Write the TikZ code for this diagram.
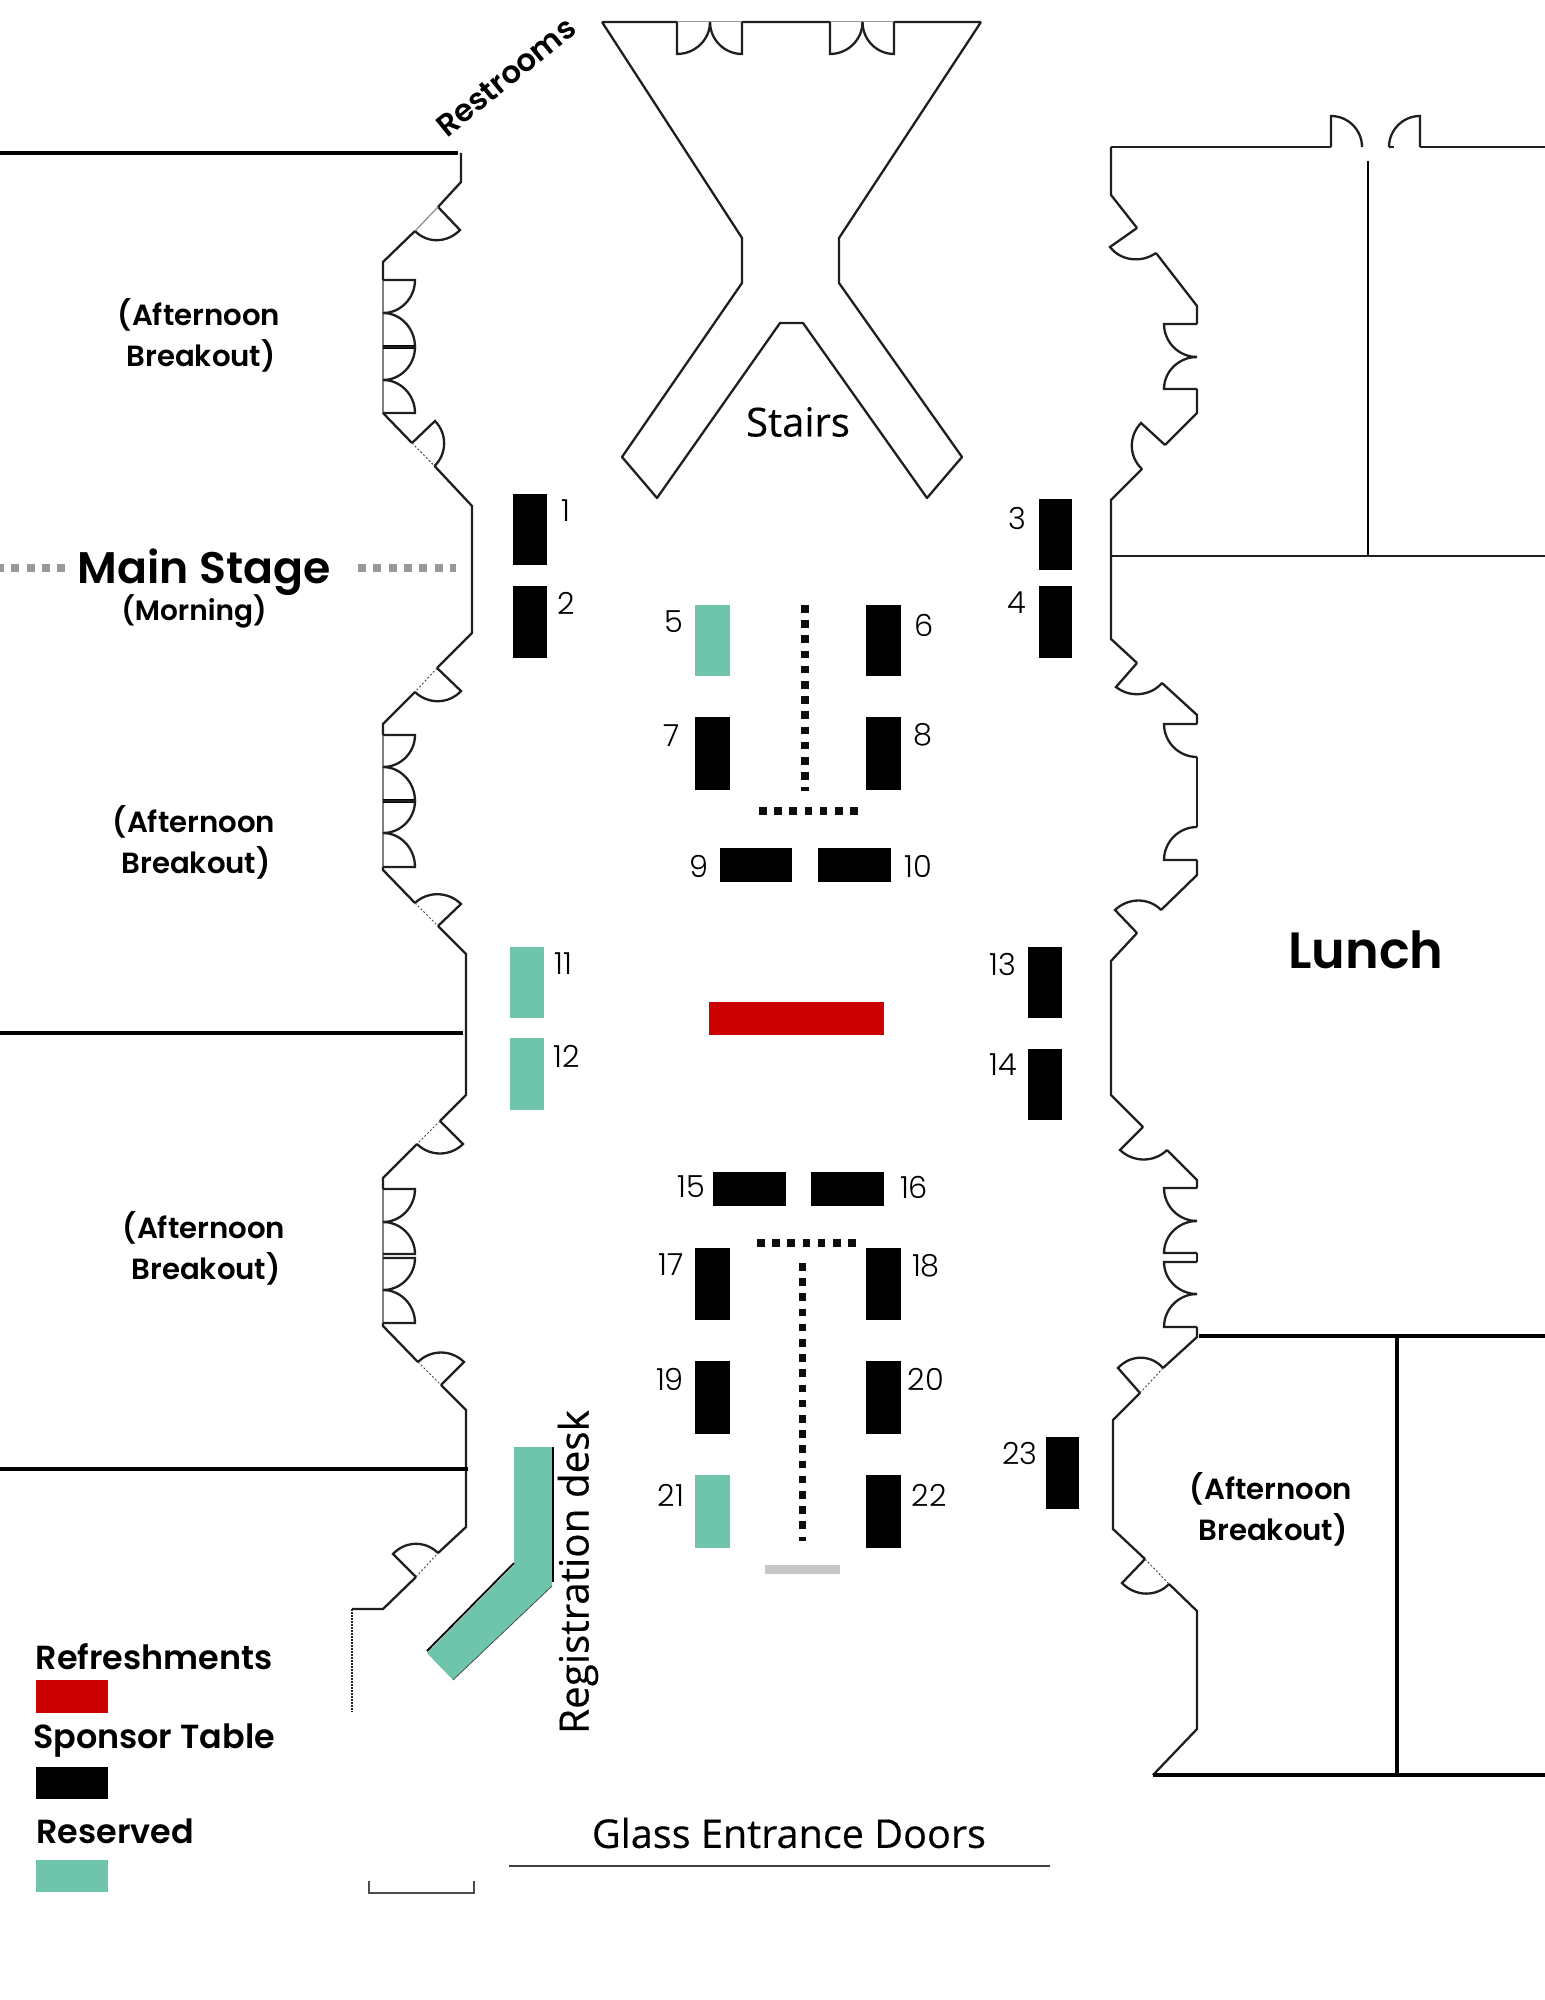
\documentclass[tikz,border=0pt]{standalone}
\usepackage{fontspec}
\usetikzlibrary{calc}
\setmainfont{Poppins}
\newfontfamily\labf{Poppins}[BoldFont={Poppins SemiBold}]
\newfontfamily\numf{Poppins Light}
\newfontfamily\opn{Open Sans}[FakeBold=0.35]
\definecolor{teal}{HTML}{6EC5AB}
\definecolor{redt}{HTML}{CC0000}
\tikzset{
  wall/.style={line width=1.15pt,draw=black!88,line join=miter},
  gwall/.style={line width=1.15pt,draw=black!50},
  thickw/.style={line width=1.8pt,draw=black},
  faint/.style={line width=.5pt,draw=black!70,dash pattern=on 1pt off 1pt},
  lab/.style={font=\labf\bfseries\fontsize{14.6}{20.5}\selectfont,inner sep=0pt,align=center},
  num/.style={font=\numf\fontsize{15.2}{17}\selectfont,inner sep=0pt},
  open/.style={font=\opn\fontsize{19.8}{22}\selectfont,inner sep=0pt},
  dotsq/.style={line width=3.75pt,draw=black!95,dash pattern=on 3.75pt off 3.85pt},
  stagedash/.style={line width=4pt,draw=black!40,dash pattern=on 4pt off 3.65pt},
}
\newcommand{\door}[3]{\draw[wall] (#1) -- (#2) .. controls ($(#2)+0.55*(#3)-0.55*(#1)$) and ($(#3)+0.55*(#2)-0.55*(#1)$) .. (#3);}
\newcommand{\tbl}[5]{\fill[#1] (#2,#4) rectangle (#3,#5);}
\begin{document}
\begin{tikzpicture}[x=0.5pt,y=-0.5pt]
\fill[white] (0,0) rectangle (1545,2000);
\useasboundingbox (0,0) rectangle (1545,2000);

% stairs
\draw[wall,line join=round] (602,22) -- (677,22) (742,22) -- (830,22) (894,22) -- (981,22)
  (602,22) -- (742,238) -- (742,283) -- (622,457) -- (657,498) -- (780,323) -- (803,323) -- (927,498) -- (962,457) -- (839,283) -- (839,238) -- (981,22);
\draw[line width=.5pt,black!40] (677,22) -- (742,22) (830,22) -- (894,22);
\door{677,22}{677,54}{710,22}
\door{742,22}{742,54}{710,22}
\door{830,22}{830,54}{862.5,22}
\door{894,22}{894,54}{862.5,22}

% left wall
\draw[thickw] (0,153) -- (458,153);
\draw[wall] (461,153) -- (461,182) -- (438,207);
\door{438,207}{460,230}{415,231}
\draw[line width=.6pt,black!45] (438,207) -- (415,231);
\draw[wall] (415,231) -- (383,262) -- (383,280);
\draw[gwall] (383,280) -- (383,413);
\door{383,280}{415,280}{383,313}
\door{383,347}{415,347}{383,313}
\draw[thickw] (383,347) -- (415,347);
\door{383,347}{415,347}{383,380}
\door{383,413}{415,413}{383,380}
\draw[wall] (383,413) -- (412,443);
\door{412,443}{435,421}{434.5,466}
\draw[faint] (412,443) -- (434.5,466);
\draw[wall] (434.5,466) -- (472,506) -- (472,633) -- (437,668);
\door{437,668}{461,691}{415,692}
\draw[faint] (437,668) -- (415,692);
\draw[wall] (415,692) -- (383,724) -- (383,735);
\draw[gwall] (383,735) -- (383,867);
\door{383,735}{415,735}{383,767}
\door{383,801}{415,801}{383,767}
\draw[thickw] (383,801) -- (415,801);
\door{383,801}{415,801}{383,833}
\door{383,867}{415,867}{383,833}
\draw[wall] (383,867) -- (383,870) -- (415,903);
\door{438,926}{461,904}{415,903}
\draw[faint] (415,903) -- (438,926);
\draw[wall] (438,926) -- (466,954) -- (466,1095) -- (440,1121);
\draw[thickw] (0,1033) -- (463,1033);
\door{440,1121}{463,1144}{417,1144}
\draw[faint] (440,1121) -- (417,1144);
\draw[wall] (417,1144) -- (383,1178) -- (383,1189);
\draw[gwall] (383,1189) -- (383,1323);
\door{383,1189}{415,1189}{383,1222}
\door{383,1254}{415,1254}{383,1222}
\door{383,1258}{415,1258}{383,1290}
\door{383,1323}{415,1323}{383,1290}
\draw[wall] (383,1323) -- (383,1326) -- (418,1362);
\door{441,1385}{464,1362}{418,1362}
\draw[faint] (418,1362) -- (441,1385);
\draw[wall] (441,1385) -- (466,1410) -- (466,1527) -- (438,1553);
\draw[thickw] (0,1469) -- (468,1469);
\door{416,1577}{393,1554}{438,1553}
\draw[faint] (416,1577) -- (438,1553);
\draw[wall] (416,1577) -- (383,1609) -- (352,1609);
\draw[line width=1.1pt,black!85,dash pattern=on .9pt off .6pt] (352,1609) -- (352,1712);
\draw[line width=1.3pt,black!70] (369,1881) -- (369,1893) -- (474,1893) -- (474,1881);

% right wall, top
\draw[wall] (1111,147) -- (1331,147);
\door{1331,147}{1331,116}{1362,147}
\door{1420,147}{1420,116}{1389,147}
\draw[wall] (1389,147) -- (1394,147) (1420,147) -- (1545,147);
\draw[line width=1.2pt,black] (1368,161) -- (1368,556);
\draw[wall] (1111,556) -- (1545,556);
\draw[wall] (1111,147) -- (1111,195) -- (1137,228);
\door{1137,228}{1110,247}{1156,253}
\draw[wall] (1156,253) -- (1197,306) -- (1197,324);
\door{1197,324}{1164,324}{1197,357}
\door{1197,389}{1164,389}{1197,357}
\draw[wall] (1197,389) -- (1197,413) -- (1165,445);
\door{1165,445}{1141,423}{1142,469}
\draw[wall] (1142,469) -- (1111,500) -- (1111,639) -- (1137,663);
\door{1137,663}{1116,687}{1162,683}
\draw[wall] (1162,683) -- (1197,715) -- (1197,724);
\door{1197,724}{1164,724}{1197,757}
\draw[wall] (1197,757) -- (1197,827);
\door{1197,860}{1164,860}{1197,827}
\draw[wall] (1197,860) -- (1197,875) -- (1161,910);
\door{1137,933}{1115,910}{1161,910}
\draw[wall] (1137,933) -- (1111,961) -- (1111,1095) -- (1143,1127);
\door{1143,1127}{1120,1150}{1167,1150}
\draw[wall] (1167,1150) -- (1197,1180) -- (1197,1188);
\door{1197,1188}{1164,1188}{1197,1221}
\door{1197,1253}{1164,1253}{1197,1221}
\draw[wall] (1197,1253) -- (1197,1262);
\door{1197,1262}{1164,1262}{1197,1294}
\door{1197,1327}{1164,1327}{1197,1294}
\draw[wall] (1197,1327) -- (1197,1337) -- (1163,1368);
\door{1140,1393}{1118,1368}{1163,1368}
\draw[faint] (1163,1368) -- (1140,1393);
\draw[wall] (1140,1393) -- (1113,1420) -- (1113,1529) -- (1145,1559);
\door{1145,1559}{1122,1583}{1169,1584}
\draw[faint] (1145,1559) -- (1169,1584);
\draw[wall] (1169,1584) -- (1197,1611) -- (1197,1729) -- (1153,1775);
\draw[thickw] (1153,1775) -- (1545,1775);
\draw[thickw] (1199,1336) -- (1545,1336);
\draw[line width=1.7pt,black] (1397,1336) -- (1397,1775);

% sponsor tables
\tbl{black}{513}{547}{494}{565}
\tbl{black}{513}{547}{586}{658}
\tbl{black}{1039}{1072}{499}{570}
\tbl{black}{1039}{1072}{586}{658}
\tbl{teal}{695}{730}{605}{676}
\tbl{black}{866}{901}{605}{676}
\tbl{black}{695}{730}{717}{790}
\tbl{black}{866}{901}{717}{790}
\tbl{black}{720}{792}{848}{882}
\tbl{black}{818}{891}{848}{882}
\tbl{teal}{510}{544}{947}{1018}
\tbl{teal}{510}{544}{1038}{1110}
\tbl{black}{1028}{1062}{947}{1018}
\tbl{black}{1028}{1062}{1049}{1120}
\tbl{redt}{709}{884}{1002}{1035}
\tbl{black}{713}{786}{1172}{1206}
\tbl{black}{811}{884}{1172}{1206}
\tbl{black}{695}{730}{1248}{1320}
\tbl{black}{866}{901}{1248}{1320}
\tbl{black}{695}{730}{1361}{1434}
\tbl{black}{866}{901}{1361}{1434}
\tbl{teal}{695}{730}{1475}{1548}
\tbl{black}{866}{901}{1475}{1548}
\tbl{black}{1046}{1079}{1437}{1509}
\fill[black!22!white] (765,1565) rectangle (840,1574);

% dotted runs
\draw[dotsq] (805,605) -- (805,791);
\draw[dotsq] (759,811) -- (858,811);
\draw[dotsq] (757,1243) -- (856,1243);
\draw[dotsq] (802.5,1263) -- (802.5,1541);
\draw[stagedash] (-4,568) -- (65,568);
\draw[stagedash] (358,568) -- (456,568);

% registration desk
\fill[teal] (514,1447) -- (552,1447) -- (552,1586) -- (453,1680) -- (427,1653) -- (514,1565) -- cycle;
\draw[line width=.8pt,black] (553,1447) -- (553,1582);
\draw[line width=.9pt,black] (427,1651) -- (514,1563);
\draw[line width=.4pt,black!70] (552,1586) -- (453,1680);

% glass doors
\draw[line width=1.1pt,black!75] (509,1866) -- (1050,1866);

% legend swatches
\tbl{redt}{36}{108}{1680}{1713}
\tbl{black}{36}{108}{1767}{1799}
\tbl{teal}{36}{108}{1860}{1892}

% labels
\node[lab,font=\labf\bfseries\fontsize{15.4}{17}\selectfont,rotate=39] (restrooms) at (506,77) {Restrooms};
\node[lab] (ab1) at (199,335) {(Afternoon\\\hspace*{2pt}Breakout)};
\node[lab] (ab2) at (194,842) {(Afternoon\\\hspace*{2pt}Breakout)};
\node[lab] (ab3) at (204,1248) {(Afternoon\\\hspace*{2pt}Breakout)};
\node[lab] (ab4) at (1271,1509) {(Afternoon\\\hspace*{2pt}Breakout)};
\node[lab,font=\labf\bfseries\fontsize{22.1}{25}\selectfont] (main) at (204,572) {Main Stage};
\node[lab,font=\labf\bfseries\fontsize{14}{16}\selectfont] (morn) at (194,611) {(Morning)};
\node[lab,font=\labf\bfseries\fontsize{25.5}{28}\selectfont] (lunch) at (1366,950) {Lunch};
\node[lab,font=\labf\bfseries\fontsize{16.7}{19}\selectfont] (l1) at (154,1657) {Refreshments};
\node[lab,font=\labf\bfseries\fontsize{16.7}{19}\selectfont] (l2) at (154,1741) {Sponsor Table};
\node[lab,font=\labf\bfseries\fontsize{16.7}{19}\selectfont] (l3) at (115,1831) {Reserved};
\node[open,font=\opn\fontsize{20}{22}\selectfont] (stairs) at (798,422) {Stairs};
\node[open] (glass) at (789,1833) {Glass Entrance Doors};
\node[open,font=\opn\fontsize{20.2}{22}\selectfont,rotate=90] (reg) at (578,1572) {Registration desk};

\foreach \n/\x/\y in {1/566/511,2/566/603,3/1017/518,4/1017/603,5/674/622,6/924/625,7/672/736,8/923/735,9/699/866,10/918/866,11/563/964,12/567/1056,13/1003/964,14/1003/1065,15/691/1187,16/914/1187,17/671/1265,18/926/1266,19/670/1379,20/926/1379,21/671/1495,22/929/1495,23/1020/1453}
  \node[num] (n\n) at (\x,\y) {\n};
\end{tikzpicture}
\end{document}
